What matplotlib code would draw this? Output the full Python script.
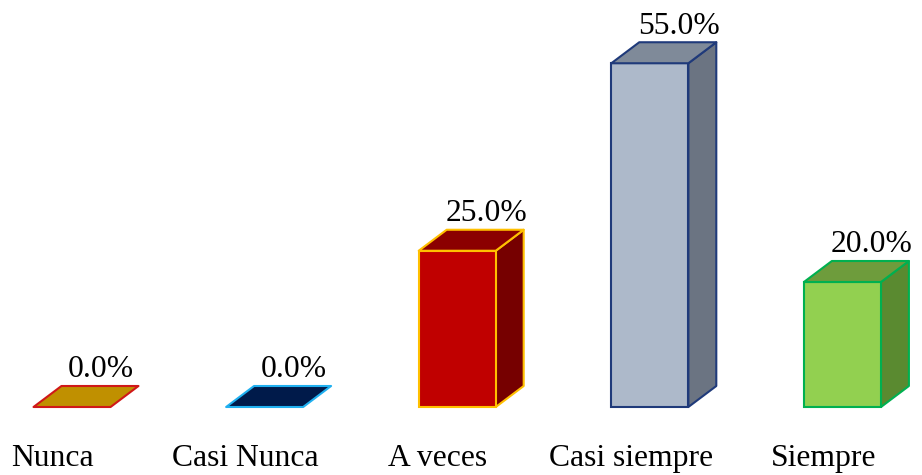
import matplotlib
matplotlib.use("Agg")
import matplotlib.pyplot as plt
from matplotlib.patches import Polygon

categories = ["Nunca", "Casi Nunca", "A veces", "Casi siempre", "Siempre"]
values = [0.0, 0.0, 25.0, 55.0, 20.0]
labels = ["0.0%", "0.0%", "25.0%", "55.0%", "20.0%"]

front_colors = ["#C09000", "#001A4A", "#C00000", "#ADB9CA", "#92D050"]
top_colors = ["#C09000", "#001A4A", "#8B0000", "#7F8A99", "#6E9C3C"]
side_colors = ["#9A7400", "#00123A", "#760000", "#6B7482", "#5A8A30"]
edge_colors = ["#D01818", "#20B0F0", "#FFC000", "#1F3A7A", "#00B050"]

plt.rcParams["font.family"] = ["Liberation Serif", "DejaVu Serif"]

fig = plt.figure(figsize=(9.22, 4.75), dpi=100)
ax = fig.add_axes([0, 0, 1, 1])
ax.set_xlim(-0.374, 4.413)
ax.set_ylim(-10.88, 65.12)
ax.axis("off")

w = 0.40
dx = 0.145
dy = 3.36
lw = 1.5

for i, (v, fc, tc, sc, ec) in enumerate(zip(values, front_colors, top_colors, side_colors, edge_colors)):
    x0, x1 = i - w / 2, i + w / 2
    if v > 0:
        side = Polygon([(x1, 0), (x1 + dx, dy), (x1 + dx, v + dy), (x1, v)],
                       closed=True, facecolor=sc, edgecolor=ec, linewidth=lw, joinstyle="round")
        ax.add_patch(side)
        ax.bar(i, v, width=w, bottom=0, color=fc, edgecolor=ec, linewidth=lw)
    top = Polygon([(x0, v), (x1, v), (x1 + dx, v + dy), (x0 + dx, v + dy)],
                  closed=True, facecolor=tc, edgecolor=ec, linewidth=lw, joinstyle="round")
    ax.add_patch(top)
    ax.text(i + 0.15, v + dy + 1.4, labels[i], ha="center", va="baseline",
            fontsize=22.8, color="black")
    ax.text(i - 0.1, -9.5, categories[i], ha="center", va="baseline",
            fontsize=22.8, color="black")

fig.savefig("out.png", dpi=100)
